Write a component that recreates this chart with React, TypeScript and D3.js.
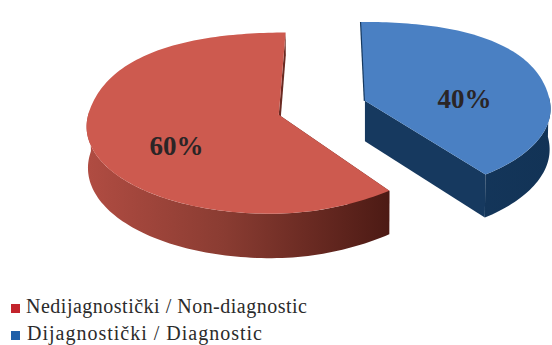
import React from "react";
import * as d3 from "d3";

// Pie shares, in percent
const categories = ["Dijagnostički / Diagnostic", "Nedijagnostički / Non-diagnostic"];
const shares = [40, 60];
const legendOrder = [1, 0];

const topColors = ["#4a80c3", "#cd5a4f"];
const legendColors = ["#1f5fa8", "#c3242c"];

// Simple perspective camera looking down on the disc
const R = 187;
const vanishX = 360;
const horizonY = 112;
const tilt = 0.47;
const perspective = 0.09;
const thickness = 41;
const recede = 0.005;
const backBulge = 0.045;
const radii = [187, 190];
const frontTrim = [0, 0.035];
const centers = [
  { X: 5, Z: -24 },
  { X: -81, Z: 6 },
];
const spins = [-0.02, 0];
const labelSpots = [
  { x: 464.5, y: 108 },
  { x: 176.5, y: 154.5 },
];
const legendWidths = [281, 235];

// The far half of the rim is drawn slightly fuller than a true ellipse,
// and the red slice's near right quadrant slightly flatter
function radiusAt(i: number, angle: number) {
  const wave = Math.sin(2 * angle) ** 2;
  const far = Math.cos(angle) > 0 ? backBulge * wave : 0;
  const trim = Math.cos(angle) < 0 && Math.sin(angle) > 0 ? frontTrim[i] * wave : 0;
  return radii[i] * (1 + far - trim);
}

function project(i: number, angle: number, r: number, depth: number): [number, number] {
  const c = centers[i];
  const X = c.X + r * Math.sin(angle);
  const Z = c.Z - r * Math.cos(angle);
  const s = 1 / (1 - (perspective * Z) / R + recede * depth);
  return [vanishX + X * s, horizonY + (tilt * Z + thickness * depth) * s];
}

const slices = d3.pie<number>().sort(null).startAngle(0).endAngle(2 * Math.PI)(shares);
const line = d3.line().curve(d3.curveLinear);

function rim(i: number, a0: number, a1: number, depth: number) {
  const n = Math.ceil(Math.abs(a1 - a0) * 40);
  return d3.range(n + 1).map((k) => {
    const a = a0 + ((a1 - a0) * k) / n;
    return project(i, a, radiusAt(i, a), depth);
  });
}

// Wall under the outer edge, limited to the part that faces the camera
function wall(i: number, a0: number, a1: number) {
  const lo = Math.max(a0, Math.PI / 2 - 0.05);
  const hi = Math.min(a1, (3 * Math.PI) / 2 + 0.05);
  return line([...rim(i, lo, hi, 0), ...rim(i, hi, lo, 1)]) as string;
}

function cutFace(i: number, angle: number, depth = 1) {
  const r = radiusAt(i, angle);
  return line([
    project(i, 0, 0, 0),
    project(i, angle, r, 0),
    project(i, angle, r, depth),
    project(i, 0, 0, depth),
  ]) as string;
}

function topFace(i: number, a0: number, a1: number) {
  return (line([project(i, 0, 0, 0), ...rim(i, a0, a1, 0)]) as string) + "Z";
}

export default function App() {
  const [blue, red] = slices;
  const blueStart = blue.startAngle + spins[0];
  const blueEnd = blue.endAngle + spins[0];
  const redStart = red.startAngle + spins[1];
  const redEnd = red.endAngle + spins[1];
  const serif = "'Liberation Serif', serif";
  return (
    <svg
      width={552}
      height={345}
      viewBox="0 0 552 345"
      style={{ position: "absolute", left: 0, top: 0, background: "#fff" }}
    >
      <defs>
        <linearGradient id="redWall" gradientUnits="userSpaceOnUse" x1={88} x2={390} y1={0} y2={0}>
          <stop offset="0" stopColor="#b04c42" />
          <stop offset="0.45" stopColor="#8a3c32" />
          <stop offset="1" stopColor="#4c1a14" />
        </linearGradient>
        <linearGradient id="blueWall" gradientUnits="userSpaceOnUse" x1={365} x2={552} y1={0} y2={0}>
          <stop offset="0" stopColor="#16395f" />
          <stop offset="1" stopColor="#123356" />
        </linearGradient>
      </defs>

      {/* Red slice */}
      <path d={cutFace(1, redEnd, 0.6)} fill="#6a2a22" />
      <path d={cutFace(1, redStart)} fill="#5a1f18" />
      <path d={wall(1, redStart, redEnd)} fill="url(#redWall)" />
      <path d={topFace(1, redStart, redEnd)} fill={topColors[1]} />

      {/* Blue slice */}
      <path
        d={line([project(0, 0, 0, 0), project(0, blueStart, radii[0], 0)]) as string}
        stroke="#16395f"
        strokeWidth={2.4}
        fill="none"
      />
      <path d={cutFace(0, blueEnd)} fill="#16395f" />
      <path d={wall(0, blueStart, blueEnd)} fill="url(#blueWall)" />
      <path d={topFace(0, blueStart, blueEnd)} fill={topColors[0]} />

      {shares.map((v, i) => (
        <text
          key={categories[i]}
          x={labelSpots[i].x}
          y={labelSpots[i].y}
          textAnchor="middle"
          fontFamily={serif}
          fontWeight="bold"
          fontSize={27}
          fill="#2a2526"
        >
          {v}%
        </text>
      ))}

      {legendOrder.map((idx, row) => (
        <g key={categories[idx]} transform={`translate(0, ${row * 27})`}>
          <rect x={11} y={304} width={9} height={9} fill={legendColors[idx]} />
          <text
            x={row === 0 ? 26 : 27}
            y={313}
            fontFamily={serif}
            fontSize={20}
            fill="#2b2b2b"
            textLength={legendWidths[row]}
            lengthAdjust="spacing"
          >
            {categories[idx]}
          </text>
        </g>
      ))}
    </svg>
  );
}
